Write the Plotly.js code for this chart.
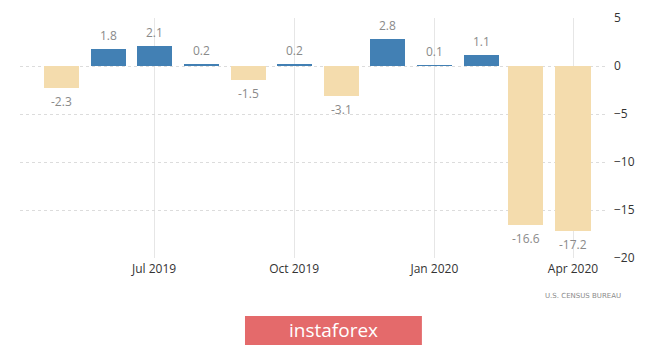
<!DOCTYPE html>
<html>
<head>
<meta charset="utf-8">
<script src="https://cdn.plot.ly/plotly-3.0.1.min.js"></script>
<style>html,body{margin:0;padding:0;background:#fff;}#chart{width:665px;height:347px;}</style>
</head>
<body>
<div id="chart"></div>
<script>
const months = ['2019-05-01','2019-06-01','2019-07-01','2019-08-01','2019-09-01','2019-10-01','2019-11-01','2019-12-01','2020-01-01','2020-02-01','2020-03-01','2020-04-01'];
const values = [-2.3, 1.8, 2.1, 0.2, -1.5, 0.2, -3.1, 2.8, 0.1, 1.1, -16.6, -17.2];
const tickVals = [5, 0, -5, -10, -15, -20];
const sourceText = 'U.S. CENSUS BUREAU';
const logoText = 'instaforex';

const posColor = '#4280b4';
const negColor = '#f4dcad';
const DAY = 86400000;

const trace = {
  type: 'bar',
  x: months,
  y: values,
  width: months.map(() => 23 * DAY),
  marker: {color: values.map(v => v >= 0 ? posColor : negColor)},
  hoverinfo: 'skip'
};

const labelAnns = months.map((m, i) => ({
  x: m, y: values[i], xref: 'x', yref: 'y',
  text: values[i].toFixed(1),
  showarrow: false,
  yanchor: values[i] >= 0 ? 'bottom' : 'top',
  yshift: values[i] >= 0 ? 3 : -3,
  font: {family: 'Open Sans, sans-serif', size: 12, color: '#8a8a8a'}
}));

const layout = {
  width: 665, height: 347,
  margin: {l: 20, r: 60, t: 18, b: 89},
  paper_bgcolor: '#fff', plot_bgcolor: '#fff',
  showlegend: false,
  bargap: 0,
  xaxis: {
    type: 'date',
    range: ['2019-04-04', '2020-04-22'],
    tick0: '2019-07-01', dtick: 'M3',
    tickformat: '%b %Y',
    showgrid: true, gridcolor: '#e6e6e6', gridwidth: 1,
    zeroline: false, showline: false, ticks: '',
    ticklabelstandoff: 2,
    tickfont: {family: 'Open Sans, sans-serif', size: 12, color: '#333'}
  },
  yaxis: {
    range: [-20, 5],
    tickvals: tickVals,
    side: 'right',
    showgrid: true, gridcolor: '#dcdcdc', griddash: 'dot', gridwidth: 1,
    zeroline: false, showline: false, ticks: '',
    ticklabelstandoff: 8,
    tickfont: {family: 'Open Sans, sans-serif', size: 12, color: '#333'}
  },
  annotations: labelAnns.concat([
    {xref: 'paper', yref: 'paper', x: 1.03, y: -0.16, xanchor: 'right', yanchor: 'middle',
     text: sourceText, showarrow: false,
     font: {family: 'DejaVu Sans, sans-serif', size: 7, color: '#8a8a8a'}},
    {xref: 'paper', yref: 'paper', x: 0.536, y: -0.302, xanchor: 'center', yanchor: 'middle',
     text: logoText, showarrow: false,
     font: {family: 'Open Sans, sans-serif', size: 19, color: '#ffffff'}}
  ]),
  shapes: [
    {type: 'rect', xref: 'paper', yref: 'paper', x0: 0.3846, x1: 0.687, y0: -0.3625, y1: -0.2417,
     fillcolor: '#e46a6b', line: {width: 0}, layer: 'below'}
  ]
};

Plotly.newPlot('chart', [trace], layout, {staticPlot: true, displayModeBar: false});
</script>
</body>
</html>
